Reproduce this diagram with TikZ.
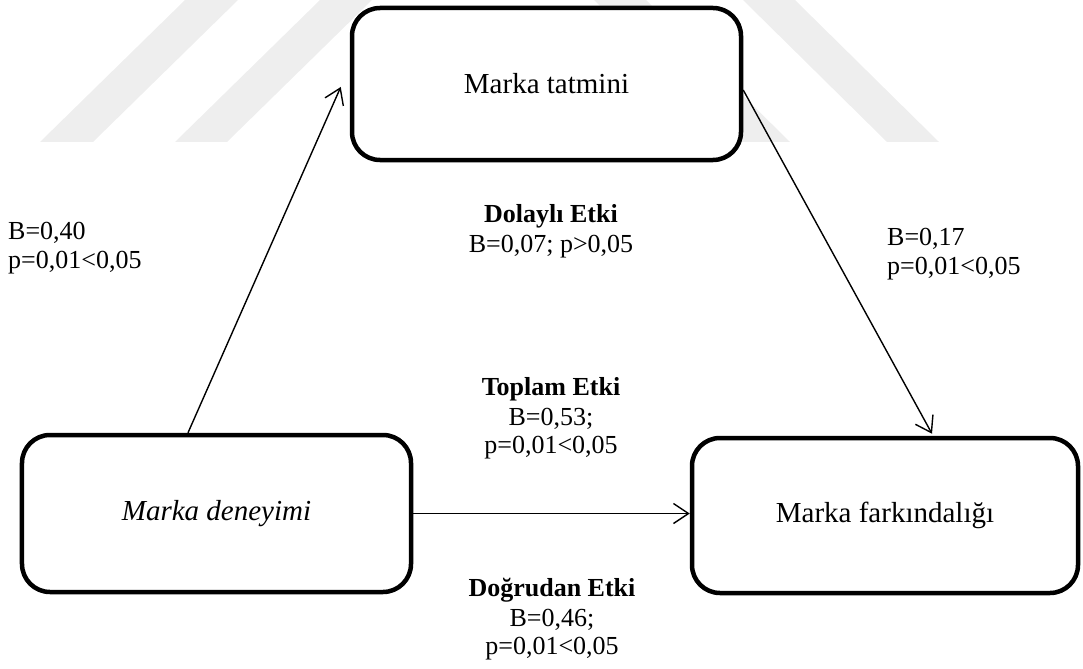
\documentclass[tikz,border=0pt]{standalone}
\usepackage{fontspec}
\setmainfont{Liberation Serif}
\usetikzlibrary{arrows.meta,calc}
\definecolor{wm}{HTML}{EEEEEE}
\tikzset{
  box/.style={draw=black, fill=white, line width=4.5bp, rounded corners=28bp, inner sep=0pt, font=\fontsize{29bp}{34bp}\selectfont},
  conn/.style={line width=1.4bp, -{Straight Barb[length=15bp,width=20bp,line width=1.4bp]}},
  lbl/.style={inner sep=0pt, anchor=base, font=\fontsize{26bp}{30bp}\selectfont},
  lbll/.style={lbl, anchor=base west},
  wmstripe/.style={fill=wm, draw=none}
}
\begin{document}
\begin{tikzpicture}[x=1bp,y=-1bp]
\useasboundingbox (0,0) rectangle (1083,669);
% watermark
\fill[wmstripe] (40,142) -- (93,142) -- (238,0) -- (185,0) -- cycle;
\fill[wmstripe] (175,142) -- (227,142) -- (372,0) -- (320,0) -- cycle;
\fill[wmstripe] (743,0) -- (795,0) -- (939,142) -- (887,142) -- cycle;
\fill[wmstripe] (594,0) -- (646,0) -- (790,142) -- (738,142) -- cycle;
% boxes
\node[box, minimum width=389bp, minimum height=152bp] (tb) at (546.5,84) {Marka tatmini};
\node[box, minimum width=389bp, minimum height=157bp] (lb) at (216.5,513.5) {\itshape Marka deneyimi};
\node[box, minimum width=386bp, minimum height=155bp] (rb) at (885,515.5) {Marka farkındalığı};
% connectors
\draw[conn] ($(lb.north)+(-28.5,0)$) -- ($(tb.west)+(-9,3)$);
\draw[conn] ($(tb.east)+(0,6)$) -- ($(rb.north)+(47,-2)$);
\draw[conn] (lb.east) -- (lb.east -| rb.west);
% labels
\node[lbll] (a1) at (8,239) {B=0,40};
\node[lbll] (a2) at (8,268) {p=0,01<0,05};
\node[lbll] (b1) at (887,245) {B=0,17};
\node[lbll] (b2) at (887,274) {p=0,01<0,05};
\node[lbl] (d1) at (551,222) {\bfseries Dolaylı Etki};
\node[lbl] (d2) at (551,252) {B=0,07; p>0,05};
\node[lbl] (t1) at (551,395) {\bfseries Toplam Etki};
\node[lbl] (t2) at (551,425) {B=0,53;};
\node[lbl] (t3) at (551,453) {p=0,01<0,05};
\node[lbl] (g1) at (552,596) {\bfseries Doğrudan Etki};
\node[lbl] (g2) at (552,626) {B=0,46;};
\node[lbl] (g3) at (552,654) {p=0,01<0,05};
\end{tikzpicture}
\end{document}
